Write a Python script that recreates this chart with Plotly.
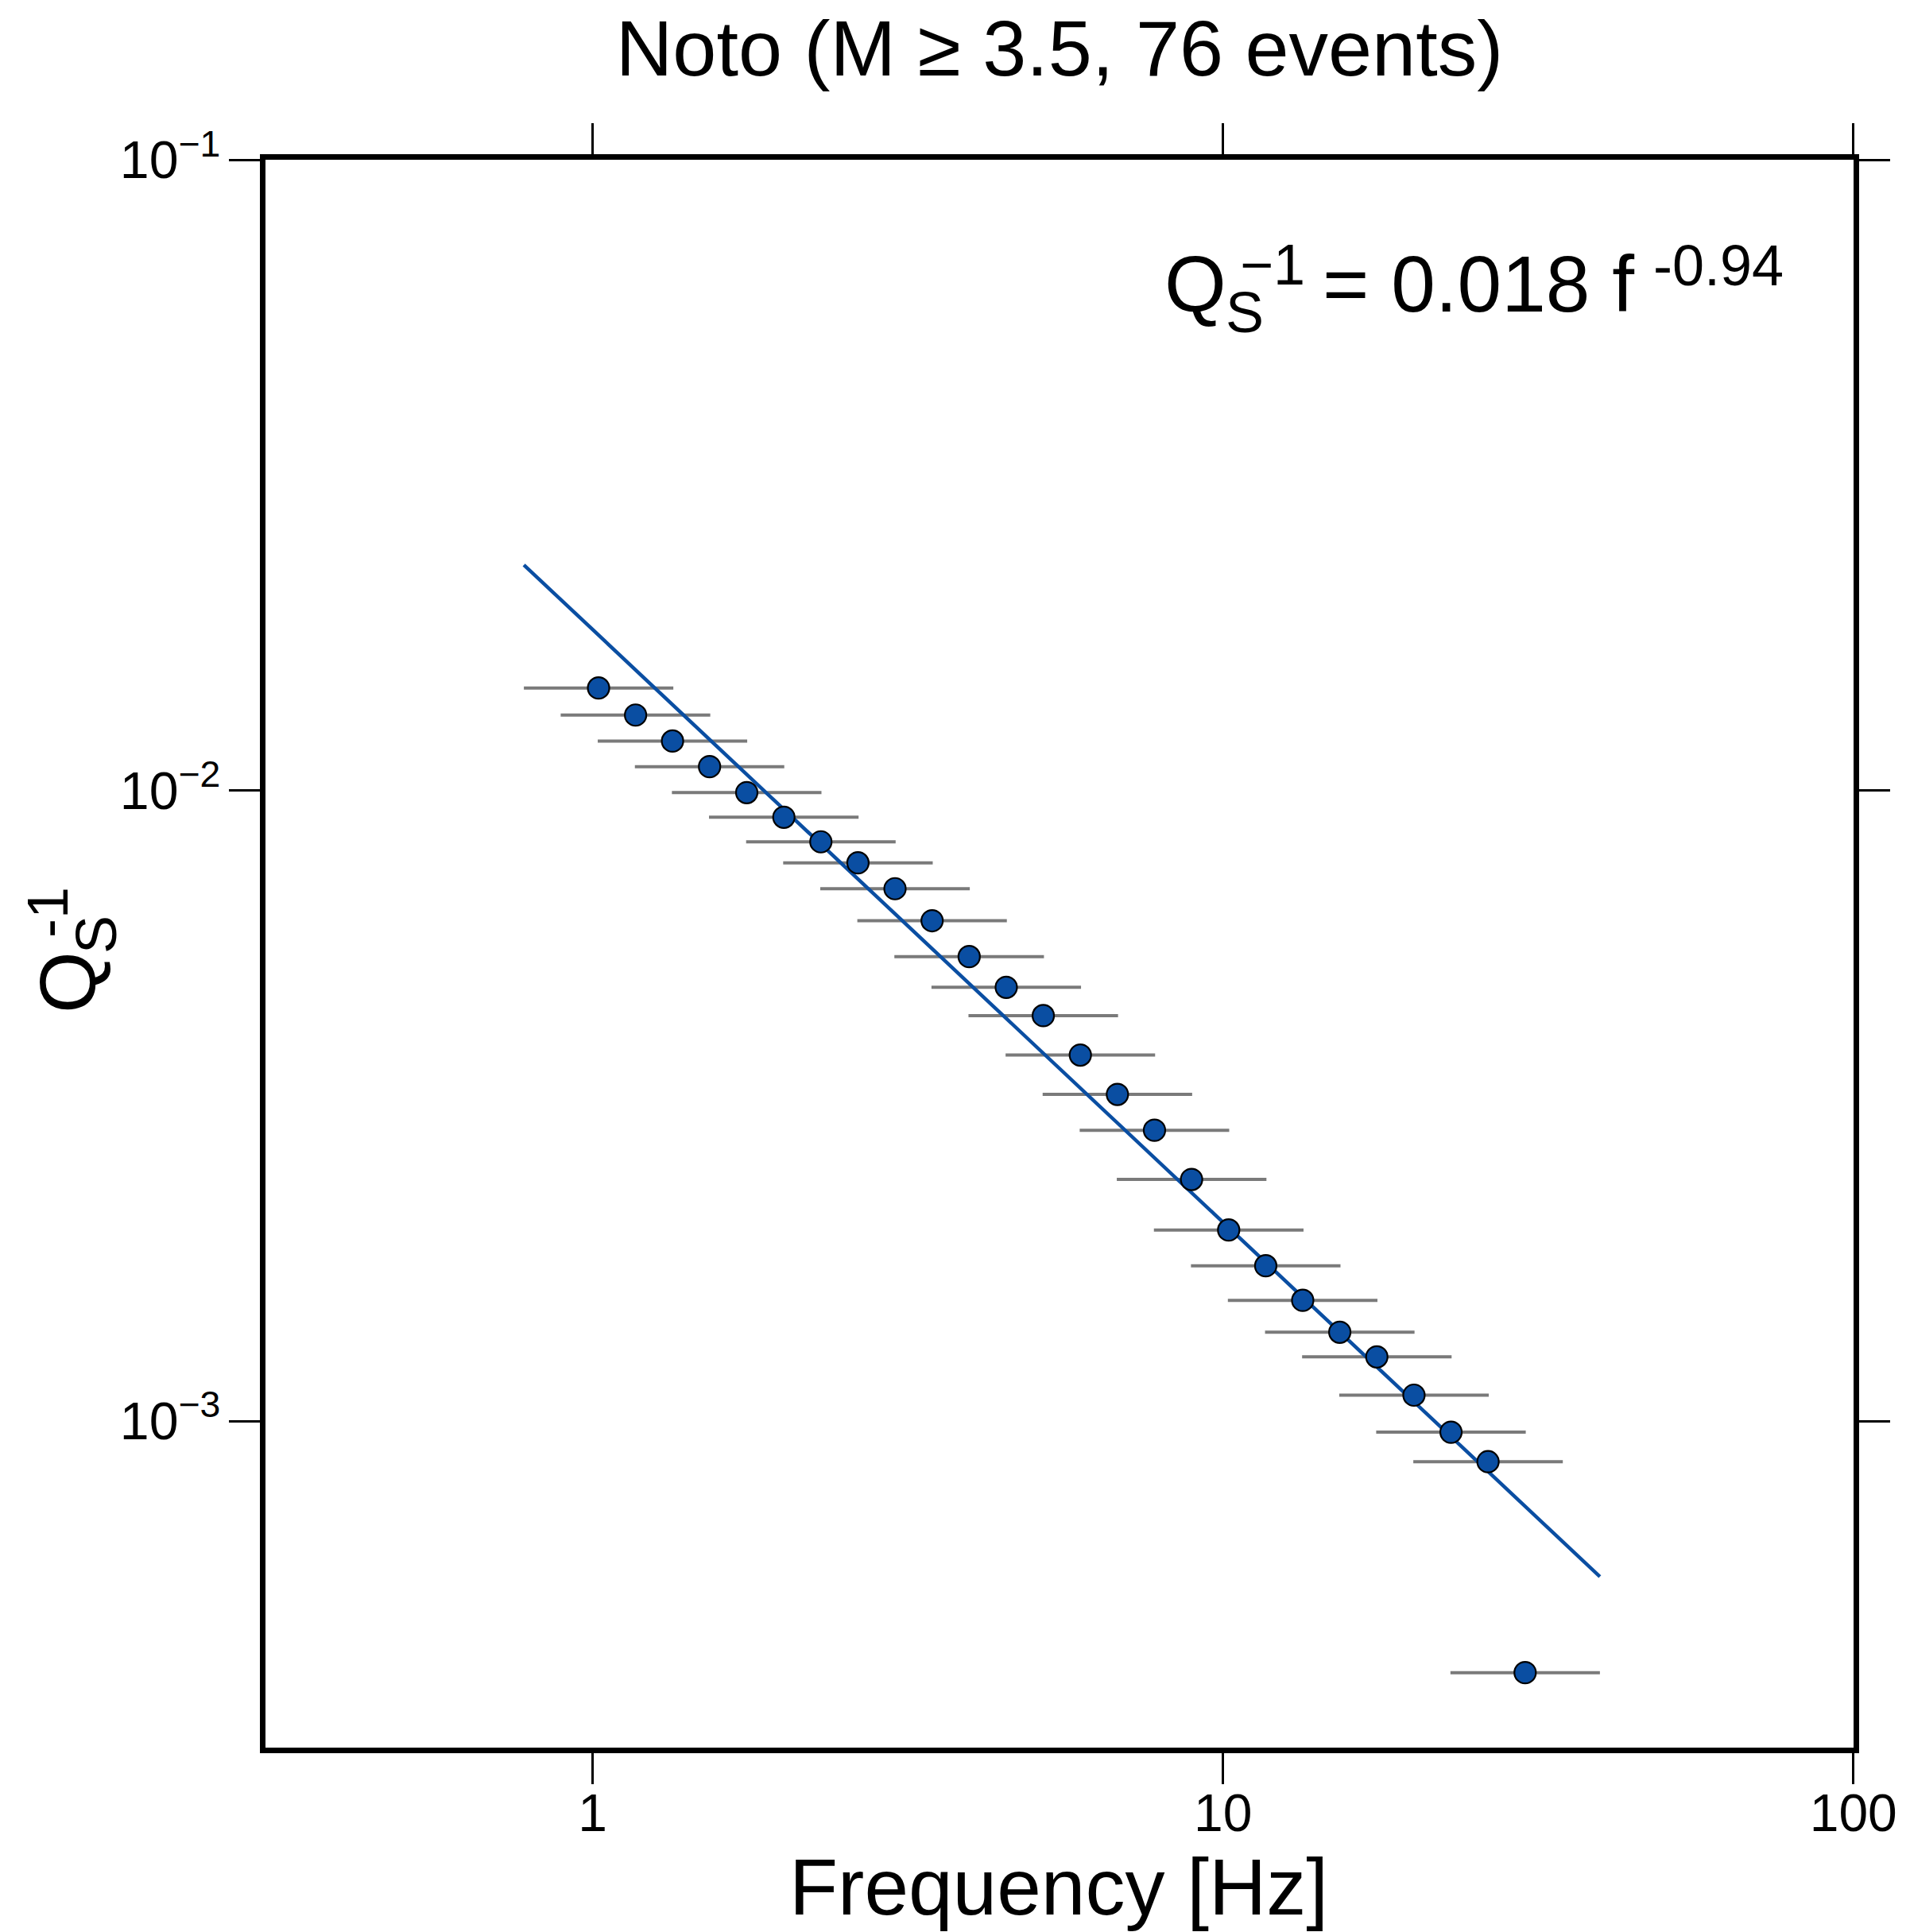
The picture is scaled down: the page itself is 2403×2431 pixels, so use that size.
import plotly.graph_objects as go

# ---- data ----
freq = [1.022, 1.170, 1.339, 1.533, 1.756, 2.011, 2.302, 2.636, 3.018, 3.456,
        3.957, 4.531, 5.187, 5.939, 6.800, 7.786, 8.916, 10.21, 11.69, 13.38,
        15.32, 17.54, 20.09, 23.00, 26.33, 30.15]
qs_inv = [0.01454, 0.01317, 0.01198, 0.01091, 0.009922, 0.009068, 0.008290,
          0.007678, 0.006986, 0.006215, 0.005452, 0.004873, 0.004395, 0.003805,
          0.003296, 0.002892, 0.002416, 0.002009, 0.001763, 0.001554, 0.001383,
          0.001264, 0.001099, 0.000960, 0.000862, 0.000399]
band_low = [0.778, 0.890, 1.019, 1.167, 1.336, 1.530, 1.752, 2.006, 2.297, 2.630,
            3.011, 3.448, 3.947, 4.520, 5.175, 5.925, 6.785, 7.770, 8.896, 10.18,
            11.66, 13.35, 15.29, 17.50, 20.04, 22.95]
band_high = [1.343, 1.537, 1.759, 2.014, 2.307, 2.642, 3.025, 3.464, 3.966, 4.541,
             5.200, 5.954, 6.816, 7.804, 8.935, 10.23, 11.72, 13.42, 15.36, 17.58,
             20.13, 23.05, 26.40, 30.22, 34.60, 39.62]
fit_coef = 0.018
fit_exp = -0.94
fit_f = [0.778, 39.62]
fit_q = [fit_coef * f ** fit_exp for f in fit_f]

title_text = "Noto (M \u2265 3.5, 76 events)"
x_title = "Frequency [Hz]"

BLUE = "#0a4ea2"
GRAY = "#7a7a7a"
FONT = "Liberation Sans, Arial, Helvetica, sans-serif"

err_plus = [h - f for h, f in zip(band_high, freq)]
err_minus = [f - l for l, f in zip(band_low, freq)]

fig = go.Figure()
fig.add_trace(go.Scatter(
    x=freq, y=qs_inv, mode="markers",
    marker=dict(size=27, color=BLUE, opacity=0),
    error_x=dict(type="data", symmetric=False, array=err_plus, arrayminus=err_minus,
                 color=GRAY, thickness=4, width=0),
    showlegend=False, hoverinfo="skip"))
fig.add_trace(go.Scatter(
    x=fit_f, y=fit_q, mode="lines",
    line=dict(color=BLUE, width=4.5), showlegend=False))
fig.add_trace(go.Scatter(
    x=freq, y=qs_inv, mode="markers",
    marker=dict(size=27, color=BLUE, line=dict(color="black", width=2.2)),
    showlegend=False))

W, H = 2403, 2431
L, R, T, B = 334, 71, 201, 232
PW = W - L - R
PH = H - T - B

def px(x):
    return (x - L) / PW

def py(y):
    return (H - B - y) / PH

annots = []
# formula inside the plot: Q_S^-1 = 0.018 f^-0.94
annots.append(dict(text="Q", x=px(1463), y=py(357), size=100, xa="left", ya="middle", ang=0))
annots.append(dict(text="S", x=px(1540), y=py(393), size=72, xa="left", ya="middle", ang=0))
annots.append(dict(text="\u22121", x=px(1558), y=py(333), size=72, xa="left", ya="middle", ang=0))
annots.append(dict(text="= 0.018 f", x=px(1662), y=py(357), size=100, xa="left", ya="middle", ang=0))
annots.append(dict(text="-0.94", x=px(2078), y=py(334), size=72, xa="left", ya="middle", ang=0))
# rotated y-axis title: Q_S^-1
annots.append(dict(text="Q", x=px(85), y=py(1236), size=100, xa="center", ya="middle", ang=-90))
annots.append(dict(text="S", x=px(121), y=py(1176), size=72, xa="center", ya="middle", ang=-90))
annots.append(dict(text="-1", x=px(60), y=py(1148), size=72, xa="center", ya="middle", ang=-90))
# x-axis title
annots.append(dict(text=x_title, x=px(1332), y=py(2374), size=100, xa="center", ya="middle", ang=0))

for a in annots:
    fig.add_annotation(text=a["text"], x=a["x"], y=a["y"], xref="paper", yref="paper",
                       xanchor=a["xa"], yanchor=a["ya"], textangle=a["ang"],
                       showarrow=False, font=dict(family=FONT, size=a["size"], color="black"))

x_range = [2 - PW / 793.2, 2.0003]
y_range = [-1 - PH / 793.5, -0.9997]

fig.update_layout(
    width=W, height=H,
    margin=dict(l=L, r=R, t=T, b=B, pad=0),
    paper_bgcolor="white", plot_bgcolor="white",
    font=dict(family=FONT, color="black"),
    title=dict(text=title_text, x=0.5, xref="paper", xanchor="center",
               y=1 - 60 / H, yref="container", yanchor="middle",
               font=dict(family=FONT, size=99, color="black")),
    xaxis=dict(type="log", range=x_range, dtick=1, showgrid=False, zeroline=False,
               showline=True, linewidth=7, linecolor="black", mirror="ticks",
               ticks="outside", ticklen=39, tickwidth=2.5, tickcolor="black",
               ticklabelstandoff=-20,
               tickfont=dict(family=FONT, size=66, color="black")),
    yaxis=dict(type="log", range=y_range, dtick=1, showgrid=False, zeroline=False,
               showline=True, linewidth=7, linecolor="black", mirror="ticks",
               ticks="outside", ticklen=39, tickwidth=2.5, tickcolor="black",
               exponentformat="power", showexponent="all",
               tickfont=dict(family=FONT, size=53, color="black")),
)

fig.write_html("out.html")
